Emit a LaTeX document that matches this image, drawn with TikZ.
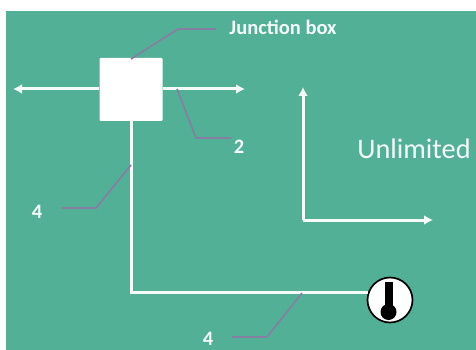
\documentclass[tikz,border=0pt]{standalone}
\usepackage{fontspec}
\setmainfont{Carlito}
\usetikzlibrary{arrows.meta}
\definecolor{panelgreen}{HTML}{52B096}
\definecolor{leadergray}{HTML}{8580A2}
\definecolor{wirewhite}{HTML}{F4FBF8}
\tikzset{
  wire/.style={wirewhite, line width=3pt},
  arrowwire/.style={wire, -{Latex[length=9pt,width=10pt]}},
  leader/.style={leadergray, line width=1.7pt},
  jboxstyle/.style={fill=white, minimum width=63pt, minimum height=63pt, inner sep=0pt, rounded corners=1pt},
  gaugestyle/.style={circle, draw=black, line width=1.7pt, fill=white, minimum size=45pt, inner sep=0pt},
  smalllabel/.style={text=wirewhite, font=\fontsize{20.5}{24}\selectfont\bfseries, inner sep=0pt},
  biglabel/.style={text=wirewhite, font=\fontsize{28.3}{32}\selectfont, inner sep=0pt}
}
\begin{document}
\begin{tikzpicture}[x=1pt,y=-1pt]
  \useasboundingbox (0,0) rectangle (476,350);
  % Fondo
  \fill[panelgreen] (6,11) rectangle (476,350);

  % Caja y sensor
  \node[jboxstyle] (jbox) at (131,89.5) {};
  \node[gaugestyle] (gauge) at (390,300) {};
  \fill[black] (385,282) rectangle (393,312);
  \fill[black] (388.5,312) circle (8);

  % Etiquetas
  \node[smalllabel] (jlabel) at (283,27.5) {Junction box};
  \node[smalllabel] (twolabel) at (239,147) {2};
  \node[smalllabel] (fourleft) at (37,212) {4};
  \node[smalllabel] (fourlow) at (208,339) {4};
  \node[biglabel] (unlimited) at (414,149) {Unlimited};

  % Extremos libres
  \coordinate (busleft) at (13,89);
  \coordinate (busright) at (245,89);
  \coordinate (corner) at (303,220);
  \coordinate (axisup) at (303,87);
  \coordinate (axisright) at (433,220);

  % Cables
  \draw[arrowwire] (jbox.west |- busleft) -- (busleft);
  \draw[arrowwire] (jbox.east |- busright) -- (busright);
  \draw[wire] (jbox.south) |- (gauge.162);
  \draw[arrowwire] (corner) -- (axisup);
  \draw[arrowwire] (corner) -- (axisright);

  % Lineas de referencia
  \coordinate (jtip) at (131,59);
  \coordinate (twotip) at (177,89);
  \coordinate (fourtip) at (131,165);
  \coordinate (lowtip) at (302,293);
  \draw[leader] (jtip) -- (178,29) -- (216,29);
  \draw[leader] (twotip) -- (196,138) -- (231,138);
  \draw[leader] (fourtip) -- (96,208) -- (62,208);
  \draw[leader] (lowtip) -- (267,337) -- (232,337);
\end{tikzpicture}
\end{document}
